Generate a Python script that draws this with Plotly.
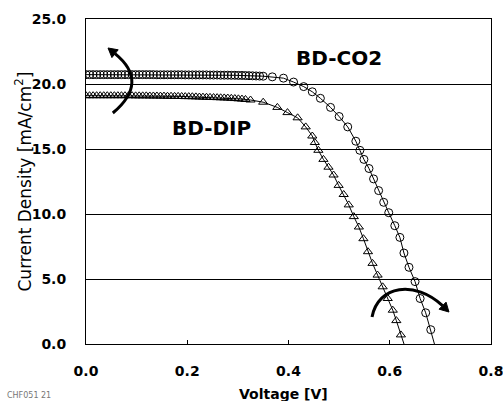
import plotly.graph_objects as go

# ---- data ----
co2_v = [0.000, 0.007, 0.014, 0.021, 0.028, 0.035, 0.042, 0.049, 0.056, 0.063,
         0.070, 0.077, 0.084, 0.091, 0.098, 0.105, 0.112, 0.119, 0.126, 0.133,
         0.140, 0.147, 0.154, 0.161, 0.168, 0.175, 0.182, 0.189, 0.196, 0.203,
         0.210, 0.217, 0.224, 0.231, 0.238, 0.245, 0.252, 0.259, 0.266, 0.273,
         0.280, 0.287, 0.294, 0.301, 0.308, 0.315, 0.322, 0.329, 0.336, 0.343,
         0.350, 0.368, 0.390, 0.410, 0.430, 0.447, 0.463, 0.483, 0.500, 0.517,
         0.533, 0.541, 0.549, 0.559, 0.568, 0.578, 0.588, 0.598, 0.610, 0.620,
         0.628, 0.638, 0.650, 0.660, 0.671, 0.681, 0.689]
co2_j = [20.72, 20.72, 20.72, 20.72, 20.72, 20.72, 20.72, 20.72, 20.72, 20.72,
         20.72, 20.72, 20.72, 20.72, 20.72, 20.72, 20.72, 20.72, 20.72, 20.72,
         20.71, 20.71, 20.71, 20.71, 20.71, 20.71, 20.71, 20.71, 20.70, 20.70,
         20.70, 20.70, 20.70, 20.70, 20.70, 20.69, 20.69, 20.69, 20.68, 20.68,
         20.68, 20.67, 20.67, 20.66, 20.66, 20.65, 20.64, 20.63, 20.62, 20.61,
         20.60, 20.55, 20.45, 20.15, 19.80, 19.40, 18.90, 18.20, 17.50, 16.70,
         15.60, 14.90, 14.20, 13.50, 12.70, 11.80, 10.90, 10.10, 9.10, 8.20,
         7.00, 5.90, 4.80, 3.50, 2.40, 1.10, -0.10]

dip_v = [0.000, 0.007, 0.014, 0.021, 0.028, 0.035, 0.042, 0.049, 0.056, 0.063,
         0.070, 0.077, 0.084, 0.091, 0.098, 0.105, 0.112, 0.119, 0.126, 0.133,
         0.140, 0.147, 0.154, 0.161, 0.168, 0.175, 0.182, 0.189, 0.196, 0.203,
         0.210, 0.217, 0.224, 0.231, 0.238, 0.245, 0.252, 0.259, 0.266, 0.273,
         0.280, 0.287, 0.294, 0.301, 0.308, 0.315, 0.325, 0.350, 0.378, 0.398,
         0.418, 0.434, 0.447, 0.452, 0.459, 0.469, 0.479, 0.489, 0.499, 0.509,
         0.519, 0.529, 0.539, 0.548, 0.557, 0.566, 0.576, 0.586, 0.596, 0.606,
         0.613, 0.622, 0.629]
dip_j = [19.10, 19.10, 19.10, 19.10, 19.10, 19.10, 19.10, 19.10, 19.10, 19.10,
         19.10, 19.10, 19.10, 19.10, 19.09, 19.09, 19.09, 19.09, 19.08, 19.08,
         19.08, 19.07, 19.07, 19.06, 19.06, 19.05, 19.05, 19.04, 19.03, 19.03,
         19.02, 19.01, 19.00, 18.99, 18.98, 18.97, 18.96, 18.95, 18.94, 18.93,
         18.92, 18.90, 18.88, 18.86, 18.84, 18.81, 18.77, 18.60, 18.20, 17.80,
         17.40, 16.70, 16.00, 15.50, 14.90, 14.20, 13.60, 13.00, 12.20, 11.50,
         10.70, 9.80, 9.00, 8.10, 7.10, 6.20, 5.30, 4.40, 3.50, 2.60,
         1.80, 0.70, -0.10]

x_ticks = [0.0, 0.2, 0.4, 0.6, 0.8]
x_tick_text = ["0.0", "0.2", "0.4", "0.6", "0.8"]
y_ticks = [0, 5, 10, 15, 20, 25]
y_tick_text = ["0.0", "5.0", "10.0", "15.0", "20.0", "25.0"]

FONT = "DejaVu Sans"

fig = go.Figure()
# connecting lines
fig.add_trace(go.Scatter(x=co2_v, y=co2_j, mode="lines",
                         line=dict(color="black", width=1), showlegend=False))
fig.add_trace(go.Scatter(x=dip_v, y=dip_j, mode="lines",
                         line=dict(color="black", width=1), showlegend=False))
# markers
fig.add_trace(go.Scatter(x=co2_v[:-1], y=co2_j[:-1], mode="markers",
                         marker=dict(symbol="circle-open", size=8,
                                     color="black", line=dict(width=1)),
                         showlegend=False))
fig.add_trace(go.Scatter(x=dip_v[:-1], y=dip_j[:-1], mode="markers",
                         marker=dict(symbol="triangle-up-open", size=8,
                                     color="black", line=dict(width=1)),
                         showlegend=False))

# curved arrows (body + filled head)
fig.add_shape(type="path", xref="x", yref="y",
              path="M 0.053,17.77 Q 0.126,20.15 0.0573,22.33",
              line=dict(color="black", width=3))
fig.add_shape(type="path", xref="x", yref="y",
              path="M 0.0435,22.77 L 0.0636,22.63 L 0.0512,22.03 Z",
              fillcolor="black", line=dict(color="black", width=1))
fig.add_shape(type="path", xref="x", yref="y",
              path="M 0.565,2.08 C 0.577,4.54 0.650,4.92 0.7043,2.95",
              line=dict(color="black", width=3))
fig.add_shape(type="path", xref="x", yref="y",
              path="M 0.717,2.46 L 0.7112,3.22 L 0.6974,2.68 Z",
              fillcolor="black", line=dict(color="black", width=1))

# series labels
fig.add_annotation(x=0.499, y=22.0, xref="x", yref="y", text="<b>BD-CO2</b>",
                   showarrow=False, font=dict(family=FONT, size=20, color="black"))
fig.add_annotation(x=0.248, y=16.6, xref="x", yref="y", text="<b>BD-DIP</b>",
                   showarrow=False, font=dict(family=FONT, size=20, color="black"))

# axis titles
fig.add_annotation(text="<b>Voltage [V]</b>", xref="paper", yref="paper",
                   x=(283 - 86) / 405, y=-(394 - 344) / 325,
                   xanchor="center", yanchor="middle", showarrow=False,
                   font=dict(family=FONT, size=14, color="black"))
fig.add_annotation(text="Current Density [mA/cm<sup>2</sup>]", xref="paper", yref="paper",
                   x=-(86 - 23) / 405, y=0.5, textangle=-90,
                   xanchor="center", yanchor="middle", showarrow=False,
                   font=dict(family=FONT, size=17, color="black"))
fig.add_annotation(text="CHF051 21", xref="paper", yref="paper",
                   x=-(86 - 5) / 405, y=-(395 - 344) / 325,
                   xanchor="left", yanchor="middle",
                   showarrow=False, font=dict(family=FONT, size=8, color="#777777"))

fig.update_xaxes(range=[0, 0.8], tickvals=x_ticks, ticktext=x_tick_text,
                 showgrid=False, zeroline=False,
                 showline=True, linecolor="black", linewidth=1, mirror=True,
                 ticks="inside", ticklen=4, tickcolor="black",
                 ticklabelstandoff=14, ticklabeloverflow="allow",
                 tickfont=dict(family=FONT, size=14, color="black", weight="bold"))
fig.update_yaxes(range=[0, 25], tickvals=y_ticks, ticktext=y_tick_text,
                 showgrid=True, gridcolor="black", gridwidth=1, zeroline=False,
                 showline=True, linecolor="black", linewidth=1, mirror=True,
                 ticks="", ticklabelstandoff=16,
                 tickfont=dict(family=FONT, size=14, color="black", weight="bold"))

fig.update_layout(width=503, height=401,
                  margin=dict(l=86, r=12, t=19, b=57, autoexpand=False),
                  paper_bgcolor="white", plot_bgcolor="white",
                  showlegend=False)

fig.write_html("out.html", config={"displayModeBar": False},
               post_script="document.body.style.margin='0';document.body.style.overflow='hidden';")
